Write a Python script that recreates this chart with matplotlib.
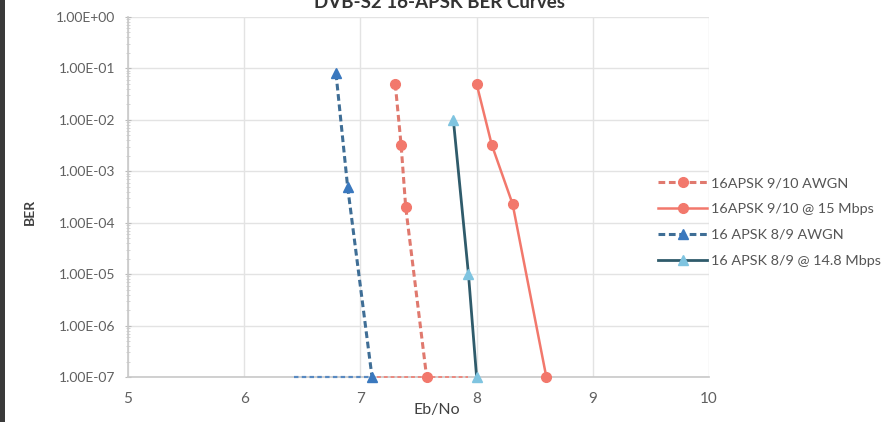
import matplotlib
matplotlib.use("Agg")
import matplotlib.pyplot as plt
import matplotlib.ticker as mticker
from matplotlib.patches import Rectangle

plt.rcParams['font.family'] = ['Lato', 'DejaVu Sans']

# ---- data ----
awgn_910_x = [7.30, 7.35, 7.39, 7.57]
awgn_910_y = [5.0e-2, 3.3e-3, 2.0e-4, 1.0e-7]

mbps15_910_x = [8.00, 8.13, 8.31, 8.60]
mbps15_910_y = [5.0e-2, 3.3e-3, 2.3e-4, 1.0e-7]

awgn_89_x = [6.79, 6.89, 7.10]
awgn_89_y = [8.0e-2, 5.0e-4, 1.0e-7]

mbps148_89_x = [7.80, 7.93, 8.00]
mbps148_89_y = [1.0e-2, 1.0e-5, 1.0e-7]

floor_blue_x = [6.43, 7.08]
floor_orange_x = [7.14, 7.93]
floor_y = [1.0e-7, 1.0e-7]

labels = ["16APSK 9/10 AWGN", "16APSK 9/10 @ 15 Mbps",
          "16 APSK 8/9 AWGN", "16 APSK 8/9 @ 14.8 Mbps"]
x_ticks = [5, 6, 7, 8, 9, 10]
y_ticks = [1e-7, 1e-6, 1e-5, 1e-4, 1e-3, 1e-2, 1e-1, 1e0]

# ---- styling ----
orange = '#F2786C'
orange_dash = '#E0796E'
blue_dash = '#3F6E96'
blue_mark = '#3A78BE'
teal = '#2F5B6B'
light_blue = '#7FC4E0'
gray_text = '#606060'

fig = plt.figure(figsize=(8.95, 4.22), dpi=100)
fig.patch.set_facecolor('white')
ax = fig.add_axes([128/895, 45/422, 581/895, 360/422])

ax.plot(floor_blue_x, floor_y, linestyle=(0, (2, 1.5)), color=blue_mark, lw=1.6,
        clip_on=False, zorder=4, alpha=0.8)
ax.plot(floor_orange_x, floor_y, linestyle=(0, (2, 1.5)), color=orange, lw=1.4,
        clip_on=False, zorder=4, alpha=0.8)

l1, = ax.plot(awgn_910_x, awgn_910_y, linestyle=(0, (2.2, 1.2)), color=orange_dash, lw=2.2,
              marker='o', ms=7, mfc=orange, mec=orange, clip_on=False, zorder=5, label=labels[0])
l2, = ax.plot(mbps15_910_x, mbps15_910_y, linestyle='-', color=orange, lw=1.8,
              marker='o', ms=7, mfc=orange, mec=orange, clip_on=False, zorder=5, label=labels[1])
l3, = ax.plot(awgn_89_x, awgn_89_y, linestyle=(0, (2.2, 1.2)), color=blue_dash, lw=2.2,
              marker='^', ms=7, mfc=blue_mark, mec=blue_mark, clip_on=False, zorder=5, label=labels[2])
l4, = ax.plot(mbps148_89_x, mbps148_89_y, linestyle='-', color=teal, lw=2.0,
              marker='^', ms=6.5, mfc=light_blue, mec=light_blue, clip_on=False, zorder=5, label=labels[3])

ax.set_yscale('log')
ax.set_xlim(5, 10)
ax.set_ylim(1e-7, 1e0)
ax.set_xticks(x_ticks)
ax.set_yticks(y_ticks)
ax.yaxis.set_major_formatter(mticker.FuncFormatter(lambda v, p: f"{v:.2E}"))
ax.yaxis.set_minor_locator(mticker.LogLocator(base=10, subs=range(2, 10), numticks=20))
ax.yaxis.set_minor_formatter(mticker.NullFormatter())

ax.grid(True, which='major', color='#E3E3E3', lw=1.0)
ax.set_axisbelow(True)
for s in ['top', 'right']:
    ax.spines[s].set_visible(False)
ax.spines['left'].set_color('#C8C8C8')
ax.spines['bottom'].set_color('#C8C8C8')
ax.spines['left'].set_linewidth(1.2)
ax.spines['bottom'].set_linewidth(1.2)

ax.tick_params(axis='y', which='major', length=4, direction='inout', color='#BBBBBB',
               labelsize=10, labelcolor=gray_text, pad=7)
ax.tick_params(axis='y', which='minor', length=3, direction='inout', color='#CCCCCC')
ax.tick_params(axis='x', which='major', length=0, labelsize=11, labelcolor=gray_text, pad=11)

fig.text(437/895, 1 - 410/422, "Eb/No", ha='center', va='center', fontsize=11.5, color='#404040')
fig.text(30/895, 1 - 212/422, "BER", ha='center', va='center', rotation=90,
         fontsize=10, fontweight='bold', color='#404040')
fig.text(440/895, 1 - 3/422, "DVB-S2 16-APSK BER Curves", ha='center', va='center',
         fontsize=13.5, fontweight='bold', color='#333333')

leg = fig.legend(handles=[l1, l2, l3, l4], loc='center left', bbox_to_anchor=(645/895, 1 - 222/422),
                 frameon=False, fontsize=10.4, labelcolor='#555555', handlelength=3.4,
                 numpoints=1, labelspacing=0.95, handletextpad=0.25)

# dark left border of the scanned image
fig.patches.append(Rectangle((0, 0), 5/895, 1, transform=fig.transFigure,
                             facecolor='#3A3A3A', edgecolor='none', zorder=0))

fig.savefig('out.png', dpi=100)
